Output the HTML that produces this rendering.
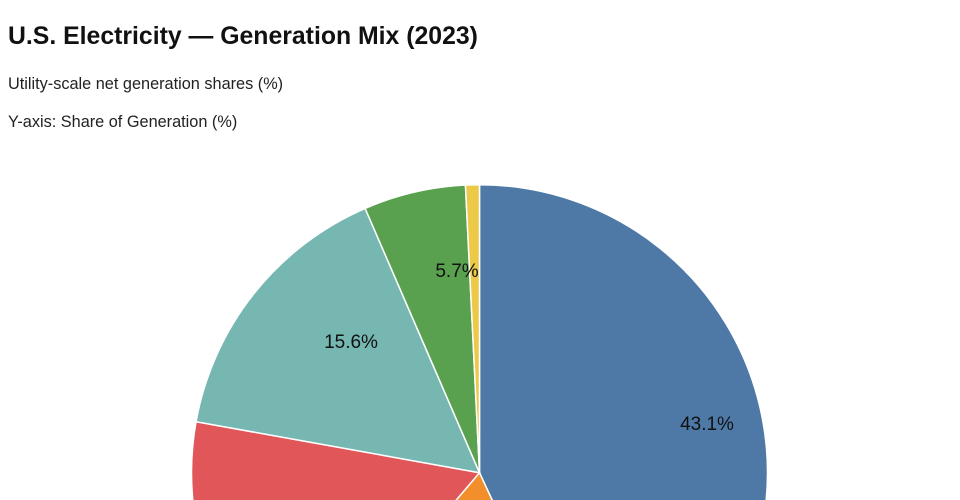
<!DOCTYPE html>
<html><head><meta charset="utf-8"><style>
html,body{margin:0;width:960px;height:500px;overflow:hidden;background:#fff;font-family:"Liberation Sans",sans-serif;}
.t{position:absolute;left:8px;top:23px;font-size:24.8px;font-weight:bold;color:#111;}
.s{position:absolute;left:8px;font-size:16.3px;color:#222;}
#w{position:absolute;left:0;top:0;width:960px;height:500px;overflow:hidden;}
</style></head><body>
<div class="t">U.S. Electricity — Generation Mix (2023)</div>
<div class="s" style="top:75px">Utility-scale net generation shares (%)</div>
<div class="s" style="top:113px">Y-axis: Share of Generation (%)</div>
<div id="w"><svg id="p" width="960" height="500" style="display:block;overflow:hidden"></svg></div>
<script>
var cx=479.5,cy=472.7,r=288;
var sl=[[0,155.2,"#4e79a7"],[155.2,220.4,"#f28e2b"],[220.4,280.2,"#e15759"],[280.2,336.6,"#76b7b2"],[336.6,357.2,"#59a14f"],[357.2,360,"#edc948"]];
function pt(a){a=a*Math.PI/180;return [cx+r*Math.sin(a),cy-r*Math.cos(a)];}
var h='<defs><clipPath id="c"><rect x="0" y="0" width="960" height="500"/></clipPath></defs><g clip-path="url(#c)">';
sl.forEach(function(s){var a=pt(s[0]),b=pt(s[1]);var big=(s[1]-s[0])>180?1:0;
h+='<path d="M'+cx+','+cy+'L'+a[0]+','+a[1]+'A'+r+','+r+' 0 '+big+' 1 '+b[0]+','+b[1]+'Z" fill="'+s[2]+'" stroke="#fff" stroke-width="1.5"/>';});
h+='</g><g font-family="Liberation Sans,sans-serif" font-size="19" fill="#111" text-anchor="middle"><text x="707" y="430">43.1%</text><text x="351" y="348">15.6%</text><text x="457" y="277">5.7%</text></g>';
document.getElementById("p").innerHTML=h;
</script>
</body></html>
